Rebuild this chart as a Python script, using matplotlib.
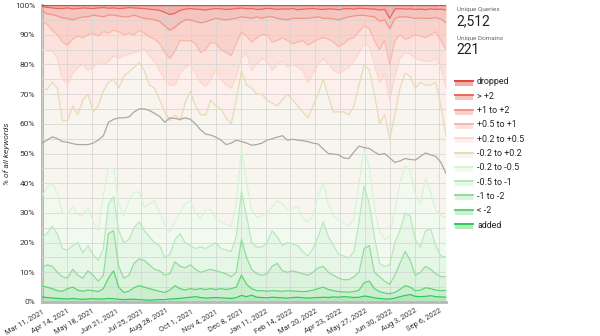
import numpy as np
import pandas as pd
import matplotlib
matplotlib.use('Agg')
import matplotlib.pyplot as plt
from matplotlib.patches import Rectangle

plt.rcParams['font.family'] = ['Roboto', 'DejaVu Sans']

# weekly samples (cumulative % at the top of each band)
dates = pd.date_range('2021-03-11', periods=80, freq='7D')

top_added = [1.7, 1.5, 1.3, 1.2, 1.1, 1.0, 1.2, 1.0, 0.9, 1.0,
             1.1, 1.0, 1.0, 1.2, 1.1, 0.9, 0.8, 0.9, 0.9, 0.8,
             0.7, 0.6, 0.7, 0.8, 0.8, 1.0, 1.1, 1.2, 1.4, 1.6,
             1.8, 1.5, 1.3, 1.4, 1.5, 1.4, 1.3, 1.2, 1.5, 2.2,
             1.8, 2.3, 1.6, 1.5, 1.4, 1.6, 1.5, 1.4, 1.3, 1.5,
             1.6, 1.4, 1.3, 1.4, 1.5, 1.6, 1.5, 1.7, 1.6, 1.8,
             1.7, 1.5, 1.6, 2.0, 1.8, 1.4, 1.2, 1.0, 1.0, 1.3,
             1.8, 2.2, 2.5, 1.9, 1.8, 1.9, 2.1, 1.8, 1.7, 1.6]
top_lt_m2 = [5.3, 5, 4.5, 3.8, 3.6, 4.5, 5, 4, 3.6, 4,
             3.8, 3.5, 4.5, 8, 10.5, 5, 3.2, 3.6, 4.8, 5.5,
             5, 4.5, 4, 3.6, 3.2, 4, 5.5, 4.5, 4, 4.5,
             4.2, 4.5, 4.2, 4.5, 4.2, 4.5, 4.2, 4.5, 5, 9,
             6, 4.5, 3.8, 3.8, 3.6, 3.8, 3.7, 3.6, 3.8, 3.7,
             3.6, 3.5, 3.6, 4, 4.5, 5, 4.2, 3.8, 3.5, 3.4,
             3.3, 3.5, 4, 6.5, 7, 4.5, 3.5, 3, 2.8, 3.2,
             4.2, 5.5, 5, 3.8, 4, 4.8, 4.5, 4, 3.8, 3.9]
top_m1_m2 = [11.5, 12.5, 12, 10, 8.5, 8, 11, 9, 8, 10.5,
             9, 7, 9, 23, 24, 12, 8, 9, 13, 14.5,
             14, 12.5, 11, 10.5, 9, 9.5, 13.5, 12, 11.5, 12.5,
             11, 10, 10.5, 11, 10.5, 10, 9.5, 8.5, 10, 21,
             15, 11, 9.5, 9, 9.5, 12, 13, 10.5, 10, 10.5,
             10, 9.5, 9, 10, 11.5, 12, 10, 9, 8, 7.5,
             7.5, 8.5, 10, 18, 19, 10, 8.5, 7, 6, 9,
             13, 17, 14, 9, 10, 12, 11, 9.5, 8.5, 8.5]
top_m05_m1 = [21.5, 23, 25.5, 23, 18, 17.5, 19, 20, 16.5, 19,
              16, 14, 18, 33, 35.5, 24, 20, 21, 25, 27,
              24, 22, 20, 19, 15, 16, 21, 23, 20, 19,
              18, 18.5, 18, 19, 20, 18, 17.5, 17, 22, 37,
              29, 20, 18.5, 18.5, 20, 24, 22, 19, 20, 19.5,
              19, 17, 15.5, 18, 22, 27, 22, 19, 16, 15.5,
              14.8, 17, 27, 39, 33, 22, 13, 12, 12.5, 20,
              24, 30, 29, 21, 18.5, 24, 24.5, 19, 15.5, 15.2]
top_m02_m05 = [35.5, 38.5, 40, 36.5, 30, 29.5, 32, 29.5, 29, 32,
               27, 24, 36, 45, 45, 33, 29, 34, 37, 37,
               32, 33, 34, 30, 26, 23.5, 27, 30, 33, 34,
               30, 28, 31, 31, 28, 27, 26, 25.5, 33, 52,
               40, 31, 28.5, 29, 30, 32, 34, 33, 31, 31.5,
               32, 28, 27, 29, 36, 40, 33, 29, 27.5, 26.5,
               25.5, 28, 40, 52, 45, 32, 23.5, 21, 22, 31,
               40, 46, 44, 36, 33, 41.5, 37, 31, 29, 28.5]
top_m02_p02 = [72, 71.5, 74, 72, 61, 61, 66, 63, 68, 70,
               64, 66, 71, 74, 75, 72, 76, 77.5, 79, 80.5,
               78, 73, 72, 68, 64, 61, 63, 61, 67, 71,
               66, 63, 63, 68, 66, 65, 62, 60, 68, 78,
               73, 72, 70, 70, 68, 67, 66, 68, 70, 68,
               66, 64, 62, 66, 70, 75, 69, 64, 64, 64,
               63, 66, 73, 80, 78, 70, 60, 63, 55, 63,
               72, 77, 76, 72, 74, 73, 73, 74, 66, 56]
top_p02_p05 = [85, 84.5, 84.5, 82, 75, 73.5, 77, 79, 80, 78,
               79, 81, 80, 81, 83, 82, 83, 83.5, 84, 84.5,
               85, 83, 81, 78, 75, 73, 73, 77, 79, 80,
               77, 74, 72.5, 75, 78, 75, 73, 72, 76, 82,
               84, 78, 80, 82, 81, 78, 80, 81, 79, 80,
               79, 78, 74, 77, 80, 82, 80, 78, 77, 78,
               79, 81, 84, 87, 86, 80, 74, 77, 68, 76,
               82, 84, 83.5, 82, 81.5, 81, 81, 82, 79, 72]
top_p05_p1 = [94.4, 93.5, 91.5, 90, 87.5, 86.5, 88.5, 89.5, 89, 90,
              90.5, 89.5, 91, 90.5, 91.5, 91, 90, 90.5, 90, 91.5,
              90.5, 89.3, 88.5, 87, 84, 82, 84.5, 88, 88, 88,
              87, 84, 85, 87.5, 87, 85, 84, 83, 87, 91,
              89.5, 87.5, 89, 90, 90, 87.5, 88, 89, 88, 87,
              87.5, 88, 86.5, 87.5, 88.5, 89, 88.5, 87.5, 86, 87,
              88.5, 89, 91, 93, 92, 88, 85, 88, 80, 88,
              90, 88.5, 89, 90, 89.5, 89, 90, 91, 88, 85]
top_p1_p2 = [98, 97, 96.8, 96.3, 95.6, 95.5, 95, 95.5, 96, 96,
             96.6, 96.3, 96, 96.6, 96.6, 96.3, 96, 96, 96.6, 96,
             95.5, 95.3, 95, 94.5, 93, 91.5, 92.5, 94, 95, 95,
             94.5, 94, 94.3, 95, 95.5, 95.2, 95, 95.3, 95.5, 96,
             95.8, 95.5, 96, 95.5, 96, 96, 95.5, 95.2, 95, 95.5,
             95.5, 95.5, 95.5, 95.8, 96, 95.5, 95.5, 95.3, 95, 95.5,
             96, 96.3, 96.5, 96.5, 96.2, 96, 94.5, 95, 92, 95.5,
             96, 96, 95.8, 95.5, 95.6, 95.5, 95.5, 95.7, 95.3, 94]
top_gt_p2 = [99.5, 99.2, 99, 98.8, 98.8, 99, 98.7, 98.8, 99, 98.9,
             98.8, 99, 99.1, 98.9, 99, 98.8, 98.9, 99.1, 99, 98.9,
             98.8, 98.6, 98.4, 98.2, 97.5, 96.8, 97.2, 98.2, 98.6, 98.8,
             98.6, 98.5, 98.3, 98.6, 98.8, 98.7, 98.5, 98.6, 98.8, 99,
             98.7, 98.8, 98.5, 98.6, 98.9, 98.7, 98.5, 98.7, 98.6, 98.8,
             98.4, 98.6, 98.7, 98.8, 98.6, 98.5, 98.7, 98.6, 98.4, 98.7,
             98.8, 98.6, 98.9, 98.8, 98.7, 98.6, 98.3, 98.5, 95.5, 98.6,
             98.8, 98.6, 98.7, 98.5, 98.6, 98.4, 98.7, 98.5, 98.6, 98.3]
top_dropped = [100] * 80

# grey reference line in the middle of the chart
grey_line = [53.5, 54.5, 55.6, 55, 54, 53.8, 53.3, 53, 53, 53,
             53.5, 54.5, 56, 60.5, 61.5, 62, 62, 62.3, 64, 65,
             65, 64.5, 63.5, 62.5, 60.5, 62, 61.8, 61.5, 62, 61.5,
             60, 58, 56.5, 56.2, 55.5, 54.5, 53, 53.5, 54.5, 54,
             53.5, 52.8, 53, 53.5, 54.5, 55, 55.5, 56, 54.5, 54.8,
             54.5, 54.3, 54, 53.5, 53.2, 51.5, 50, 49.8, 49.6, 48.5,
             48.3, 50.5, 52.5, 52, 51.7, 50.5, 49.6, 50, 48.5, 47,
             47.5, 48.3, 48, 47.8, 49, 50.2, 49.5, 49, 47, 43.3]

names = ['added', '< -2', '-1 to -2', '-0.5 to -1', '-0.2 to -0.5', '-0.2 to +0.2',
         '+0.2 to +0.5', '+0.5 to +1', '+1 to +2', '> +2', 'dropped']
tops = [top_added, top_lt_m2, top_m1_m2, top_m05_m1, top_m02_m05, top_m02_p02,
        top_p02_p05, top_p05_p1, top_p1_p2, top_gt_p2, top_dropped]
fill_colors = ['#b5e6be', '#cbeed0', '#dbf3dd', '#e7f7e7', '#f2faf0', '#f8f5ee',
               '#fdefec', '#fce2dc', '#f9d2cb', '#f6c4be', '#f1aeab']
line_colors = ['#2ecb55', '#5ed470', '#8fdd98', '#b6e9b9', '#d9f3d7', '#e6dcb6',
               '#fcd6ce', '#f9b8ac', '#f29485', '#ea6859', '#e0453d']

tick_dates = pd.date_range('2021-03-11', periods=17, freq='34D')
tick_labels = ['Mar 11, 2021', 'Apr 14, 2021', 'May 18, 2021', 'Jun 21, 2021',
               'Jul 25, 2021', 'Aug 28, 2021', 'Oct 1, 2021', 'Nov 4, 2021',
               'Dec 8, 2021', 'Jan 11, 2022', 'Feb 14, 2022', 'Mar 20, 2022',
               'Apr 23, 2022', 'May 27, 2022', 'Jun 30, 2022', 'Aug 3, 2022',
               'Sep 6, 2022']

fig = plt.figure(figsize=(6, 3.36), dpi=100)
ax = fig.add_axes([42 / 600, 1 - 302 / 336, 404 / 600, 297 / 336])

lower = np.zeros(len(dates))
for t, fc, lc in zip(tops, fill_colors, line_colors):
    t = np.array(t, dtype=float)
    ax.fill_between(dates, lower, t, color=fc, lw=0, zorder=1)
    ax.plot(dates, t, color=lc, lw=0.9, zorder=3)
    lower = t
ax.plot(dates, grey_line, color='#a8a8a8', lw=0.9, zorder=4)

ax.set_xlim(dates[0], dates[-1])
ax.set_ylim(0, 100)
ax.set_yticks(range(0, 101, 10))
ax.set_yticks(range(0, 101, 5), minor=True)
ax.set_yticklabels([f'{v}%' for v in range(0, 101, 10)])
ax.set_xticks(tick_dates)
ax.set_xticklabels(tick_labels, rotation=30, ha='right', rotation_mode='anchor')
ax.tick_params(axis='both', which='both', length=0, colors='#333333')
ax.tick_params(axis='y', labelsize=6, pad=5)
ax.tick_params(axis='x', labelsize=5.4, pad=4)
ax.grid(True, which='both', color='#d5d5d5', lw=0.7, alpha=0.8, zorder=2)
ax.set_axisbelow(False)
for s in ['top', 'right']:
    ax.spines[s].set_visible(False)
ax.spines['left'].set_color('#b0b0b0')
ax.spines['left'].set_linewidth(2)
ax.spines['bottom'].set_color('#b8b8b8')
ax.spines['bottom'].set_linewidth(2)
ax.set_ylabel('% of all keywords', fontstyle='italic', fontsize=6, color='#333333')
ax.yaxis.set_label_coords(-32 / 404, 0.5)

# right-hand panel in pixel coordinates
lax = fig.add_axes([0, 0, 1, 1], zorder=5)
lax.set_xlim(0, 600)
lax.set_ylim(336, 0)
lax.axis('off')

lax.text(457, 9.5, 'Unique Queries', fontsize=4.6, color='#666666', va='center')
lax.text(456, 21, '2,512', fontsize=10, color='#222222', va='center')
lax.text(457, 38.5, 'Unique Domains', fontsize=4.6, color='#666666', va='center')
lax.text(456, 50.5, '221', fontsize=10, color='#222222', va='center')

for i, (name, fc, lc) in enumerate(zip(names[::-1], fill_colors[::-1], line_colors[::-1])):
    y = 81 + i * 14.3
    lax.add_patch(Rectangle((455, y), 18, 5, facecolor=fc, edgecolor='none'))
    lax.plot([455, 473], [y, y], color=lc, lw=1.4)
    lax.text(477, y + 1, name, fontsize=6.4, color='#222222', va='center')

fig.savefig('out.png', dpi=100)
